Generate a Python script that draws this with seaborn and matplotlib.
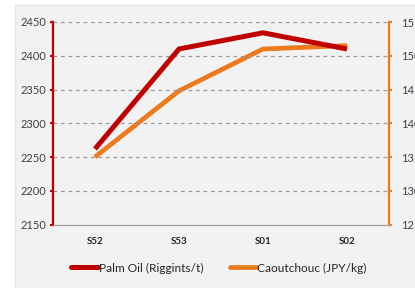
import matplotlib
matplotlib.use("Agg")
import matplotlib.pyplot as plt
import seaborn as sns
import pandas as pd
from matplotlib.patches import Rectangle
from matplotlib.lines import Line2D

categories = ["S52", "S53", "S01", "S02"]
palm_oil = [2262, 2410, 2434, 2410]
caoutchouc = [135.0, 144.8, 151.0, 151.5]
left_ticks = [2150, 2200, 2250, 2300, 2350, 2400, 2450]
right_ticks = [125, 130, 135, 140, 145, 150, 155]
series_names = ["Palm Oil (Riggints/t)", "Caoutchouc (JPY/kg)"]

RED = "#C00000"
ORANGE = "#EE7A1E"

sns.set_theme(style="white")
plt.rcParams["font.family"] = ["Lato", "DejaVu Sans"]

W, H = 415, 288
fig = plt.figure(figsize=(W / 100, H / 100), dpi=100, facecolor="white")
fig.patches.append(Rectangle((15 / W, 0), 1, (H - 5) / H, transform=fig.transFigure,
                             facecolor="#F2F2F2", edgecolor="#E4E4E4", lw=1, zorder=-5))

ax = fig.add_axes([53 / W, (H - 224.5) / H, (389 - 53) / W, (224.5 - 22) / H])
ax.set_facecolor("none")
ax2 = ax.twinx()
ax2.set_facecolor("none")

df = pd.DataFrame({"cat": categories, "palm": palm_oil, "cao": caoutchouc})
sns.lineplot(data=df, x="cat", y="palm", ax=ax, color=RED, lw=3.6, sort=False,
             solid_capstyle="butt", zorder=3)
sns.lineplot(data=df, x="cat", y="cao", ax=ax2, color=ORANGE, lw=3.4, sort=False,
             solid_capstyle="butt", zorder=2)
ax.set_zorder(2)
ax2.set_zorder(1)

ax.set_xlim(-0.5, 3.5)
ax.set_ylim(2150, 2450)
ax2.set_ylim(125, 155)
ax.set_yticks(left_ticks)
ax2.set_yticks(right_ticks)
ax.set_xticks(range(len(categories)))
ax.set_xticklabels(categories, fontsize=7, fontweight="bold", color="#262626")
ax.set_xticks([0.5, 1.5, 2.5, 3.5], minor=True)
ax.tick_params(axis="x", which="major", length=0, pad=9)
ax.tick_params(axis="x", which="minor", length=3, color="#A0A0A0", width=0.8, direction="out")
ax.set_xlabel("")
ax.set_ylabel("")
ax2.set_ylabel("")

for y in left_ticks[1:]:
    ax.axhline(y, color="#9A9A9A", lw=0.9, ls=(0, (3, 3)), zorder=1)

ax.tick_params(axis="y", length=2.5, width=1.5, color=RED, labelsize=8, labelcolor="#404040", pad=2, direction="out")
ax2.tick_params(axis="y", length=2.5, width=1.5, color=ORANGE, labelsize=8, labelcolor="#404040", pad=6, direction="out")
for a in (ax, ax2):
    for s in a.spines.values():
        s.set_visible(False)
ax.spines["left"].set_visible(True)
ax.spines["left"].set_color(RED)
ax.spines["left"].set_linewidth(1.6)
ax.spines["bottom"].set_visible(True)
ax.spines["bottom"].set_color("#A0A0A0")
ax.spines["bottom"].set_linewidth(0.9)
ax2.spines["right"].set_visible(True)
ax2.spines["right"].set_color(ORANGE)
ax2.spines["right"].set_linewidth(1.6)

handles = [Line2D([], [], color=RED, lw=3.6), Line2D([], [], color=ORANGE, lw=3.4)]
fig.legend(handles, series_names, loc="center", bbox_to_anchor=(219 / W, 1 - 268 / H),
           ncol=2, frameon=False, fontsize=8.6, handlelength=2.2, handletextpad=0.1,
           columnspacing=2.2)

fig.savefig("out.png", dpi=100, facecolor="white")
